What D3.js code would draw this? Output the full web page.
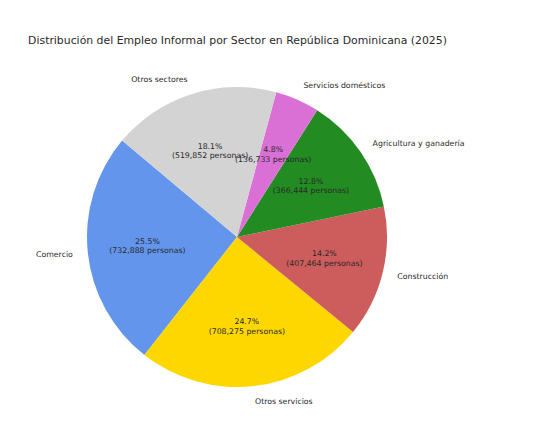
<!DOCTYPE html>
<html>
<head>
<meta charset="utf-8">
<script src="https://cdn.jsdelivr.net/npm/d3@7/dist/d3.min.js"></script>
<style>
  html, body { margin: 0; padding: 0; background: #fff; }
  text { font-family: "DejaVu Sans", sans-serif; fill: #2a2a2a; }
</style>
</head>
<body>
<svg id="chart" width="537" height="422"></svg>
<script>
const categories = ["Comercio", "Otros servicios", "Construcción", "Agricultura y ganadería", "Servicios domésticos", "Otros sectores"];
const values = [732888, 708275, 407464, 366444, 136733, 519852];
const colors = ["#6495ED", "#FFD700", "#CD5C5C", "#228B22", "#DA70D6", "#D3D3D3"];
const title = "Distribución del Empleo Informal por Sector en República Dominicana (2025)";

const W = 537, H = 422;
const cx = 237, cy = 237, R = 150;
const fs = 7.8;

const svg = d3.select("#chart");
svg.append("rect").attr("width", W).attr("height", H).attr("fill", "#fff");

const data = categories.map((c, i) => ({ cat: c, value: values[i], color: colors[i] }));
const total = d3.sum(values);

const toRad = d => d * Math.PI / 180;
const start = toRad(90 - 140);
const pie = d3.pie().sort(null).value(d => d.value)
  .startAngle(start).endAngle(start - 2 * Math.PI);
const arcs = pie(data);
const arc = d3.arc().innerRadius(0).outerRadius(R);

const g = svg.append("g").attr("transform", `translate(${cx},${cy})`);
g.selectAll("path").data(arcs).join("path")
  .attr("d", arc)
  .attr("fill", d => d.data.color);

const fmt = d3.format(",");
arcs.forEach(a => {
  const m = (a.startAngle + a.endAngle) / 2;
  const sx = Math.sin(m), sy = -Math.cos(m);
  const lx = 1.1 * R * sx, ly = 1.1 * R * sy;
  g.append("text")
    .attr("x", lx).attr("y", ly)
    .attr("text-anchor", lx > 0 ? "start" : "end")
    .attr("dominant-baseline", "central")
    .attr("font-size", fs)
    .text(a.data.cat);
  const px = 0.6 * R * sx, py = 0.6 * R * sy;
  const pct = (a.data.value / total * 100).toFixed(1) + "%";
  const lines = [pct, "(" + fmt(a.data.value) + " personas)"];
  lines.forEach((t, i) => {
    g.append("text")
      .attr("x", px).attr("y", py + (i - 0.5) * fs * 1.2)
      .attr("text-anchor", "middle")
      .attr("dominant-baseline", "central")
      .attr("font-size", fs)
      .text(t);
  });
});

svg.append("text")
  .attr("x", cx + 0.5).attr("y", 40.5)
  .attr("text-anchor", "middle")
  .attr("dominant-baseline", "central")
  .attr("font-size", 10.87)
  .text(title);
</script>
</body>
</html>
